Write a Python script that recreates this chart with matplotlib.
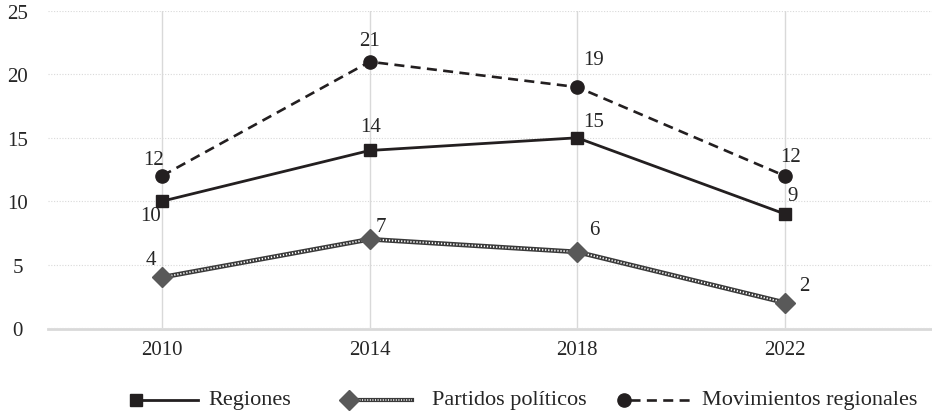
import matplotlib
matplotlib.use("Agg")
import matplotlib.pyplot as plt
from matplotlib.lines import Line2D

years = ["2010", "2014", "2018", "2022"]
regiones = [10, 14, 15, 9]
partidos = [4, 7, 6, 2]
movimientos = [12, 21, 19, 12]

# label offsets (points) for each data label
off_reg = [(-8, -10), (1, 17), (12, 12), (6, 13)]
off_par = [(-8, 13), (8, 9), (12, 16), (14, 12)]
off_mov = [(-6, 12), (0, 15), (12, 20), (4, 14)]

DARK = "#231f20"
GRAY = "#595959"
GRID = "#d9d9d9"
TXT = "#262626"

plt.rcParams["font.family"] = ["Liberation Serif", "DejaVu Serif"]
plt.rcParams["font.size"] = 14.5

fig = plt.figure(figsize=(9.32, 4.14), dpi=100)
ax = fig.add_axes([48 / 932, 1 - 329 / 414, 1 - 48 / 932, (329 - 12) / 414])

x = list(range(len(years)))

# regiones: solid line with squares
ax.plot(x, regiones, color=DARK, lw=2, zorder=3)
ax.plot(x, regiones, ls="none", marker="s", ms=9, color=DARK, zorder=5)

# partidos: chain-like line (dark line with white dots inside)
ax.plot(x, partidos, color="#3a3a3a", lw=3.4, zorder=3, solid_capstyle="butt")
ax.plot(x, partidos, color="white", lw=1.3, ls=(0, (0.7, 1.0)), zorder=4)
ax.plot(x, partidos, ls="none", marker="D", ms=10, color=GRAY, zorder=5)

# movimientos: dashed line with circles
ax.plot(x, movimientos, color=DARK, lw=1.9, ls=(0, (3.8, 2.4)), zorder=3)
ax.plot(x, movimientos, ls="none", marker="o", ms=9.5, color=DARK, zorder=5)

for vals, offs in [(regiones, off_reg), (partidos, off_par), (movimientos, off_mov)]:
    for xi, v, o in zip(x, vals, offs):
        ax.annotate(str(v), (xi, v), xytext=o, textcoords="offset points",
                    ha="center", va="center", color=TXT, fontsize=15)

ax.set_xlim(-0.55, 3.71)
ax.set_ylim(0, 25)
ax.set_yticks(range(0, 26, 5))
ax.set_xticks(x)
ax.set_xticklabels(years)

ax.grid(axis="y", color=GRID, ls=(0, (1, 1.5)), lw=0.8)
ax.grid(axis="x", color=GRID, ls="-", lw=1)
ax.set_axisbelow(True)

for s in ["top", "right", "left"]:
    ax.spines[s].set_visible(False)
ax.spines["bottom"].set_color(GRID)
ax.spines["bottom"].set_linewidth(2)
ax.spines["bottom"].set_position(("outward", 1))

ax.tick_params(axis="both", length=0, colors=TXT, labelsize=15)
ax.tick_params(axis="y", pad=22)
ax.tick_params(axis="x", pad=8)
for lab in ax.get_yticklabels():
    lab.set_horizontalalignment("center")

# legend drawn by hand: marker at the left end of each sample line
def fx(px):
    return px / 932

def fy(py):
    return 1 - py / 414

ly = 401
fs_leg = 16
fig.add_artist(Line2D([fx(136), fx(198)], [fy(ly), fy(ly)], color=DARK, lw=2))
fig.add_artist(Line2D([fx(136)], [fy(ly)], marker="s", ms=9, color=DARK, ls="none"))
fig.text(fx(208), fy(ly), "Regiones", va="center", ha="left", color=TXT, fontsize=fs_leg)

fig.add_artist(Line2D([fx(349), fx(412)], [fy(ly), fy(ly)], color="#3a3a3a", lw=3.0))
fig.add_artist(Line2D([fx(349), fx(412)], [fy(ly), fy(ly)], color="white", lw=1.1,
                      ls=(0, (0.7, 1.0))))
fig.add_artist(Line2D([fx(349)], [fy(ly)], marker="D", ms=10, color=GRAY, ls="none"))
fig.text(fx(432), fy(ly), "Partidos políticos", va="center", ha="left", color=TXT, fontsize=fs_leg)

fig.add_artist(Line2D([fx(630), fx(690)], [fy(ly), fy(ly)], color=DARK, lw=1.9,
                      ls=(0, (3.8, 2.4))))
fig.add_artist(Line2D([fx(624)], [fy(ly)], marker="o", ms=9.5, color=DARK, ls="none"))
fig.text(fx(702), fy(ly), "Movimientos regionales", va="center", ha="left", color=TXT, fontsize=fs_leg)

fig.savefig("out.png", dpi=100)
